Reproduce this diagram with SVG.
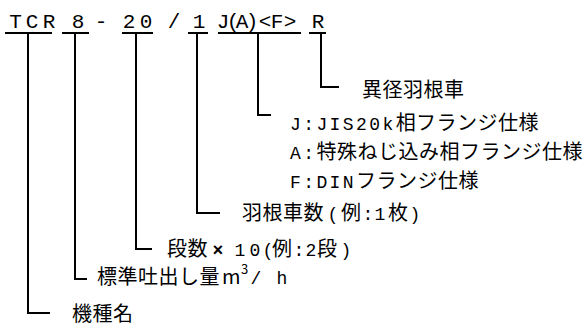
<svg xmlns="http://www.w3.org/2000/svg" width="587" height="327" viewBox="0 0 587 327">
<style>
.t{font-family:"Noto Sans CJK JP","Noto Sans",sans-serif;font-size:20px;letter-spacing:0.5px;fill:#000}
.h{font-family:"Liberation Mono","DejaVu Sans Mono",monospace;font-size:21px;fill:#000;text-anchor:middle}
.l{font-family:"Liberation Mono","DejaVu Sans Mono",monospace;font-size:18px;letter-spacing:2.4px}
.c{font-family:"Liberation Mono","DejaVu Sans Mono",monospace;font-size:18px;fill:#000;text-anchor:middle}
.ln{fill:none;stroke:#000;stroke-width:2}
</style>
<rect width="587" height="327" fill="#fff"/>
<g id="code">
<text class="h" y="28" x="15.5 32 49">TCR</text>
<text class="h" x="78" y="28">8</text>
<text class="h" x="101" y="28">-</text>
<text class="h" y="28" x="129 146">20</text>
<text class="h" x="174" y="28">/</text>
<text class="h" x="199" y="28">1</text>
<text class="h" y="28" x="223 233 242 252 265 277 290">J(A)&lt;F&gt;</text>
<text class="h" x="318" y="28">R</text>
</g>
<g id="connectors">
<path class="ln" d="M5 33H52M62 33H89M122 33H153M188 33H208M218 33H301M309 33H326"/>
<path class="ln" d="M28 33V313H50M75 33V279H87M136 33V249H152M197 33V213H220M258 33V115H271M321 33V87H339"/>
</g>
<g id="n-R"><text class="t" x="362" y="97">異径羽根車</text></g>
<g id="n-J"><text class="t" x="290" y="130"><tspan class="l">J:JIS20k</tspan>相フランジ仕様</text></g>
<g id="n-A"><text class="t" x="290" y="159"><tspan class="l">A:</tspan>特殊ねじ込み相フランジ仕様</text></g>
<g id="n-F"><text class="t" x="290" y="188"><tspan class="l">F:DIN</tspan>フランジ仕様</text></g>
<g id="n-1">
<text class="t" x="242" y="220">羽根車数</text>
<text class="c" x="333" y="220">(</text>
<text class="t" x="341" y="220">例</text>
<text class="c" x="368" y="220">:</text>
<text class="c" x="380" y="220">1</text>
<text class="t" x="388" y="220">枚</text>
<text class="c" x="415" y="220">)</text>
</g>
<g id="n-20">
<text class="t" x="167" y="256">段数</text>
<text class="c" x="218" y="256" font-weight="bold">×</text>
<text class="c" x="240" y="256">1</text>
<text class="c" x="255" y="256">0</text>
<text class="c" x="268" y="256">(</text>
<text class="t" x="272" y="256">例</text>
<text class="c" x="299" y="256">:</text>
<text class="c" x="311" y="256">2</text>
<text class="t" x="317" y="256">段</text>
<text class="c" x="346" y="256">)</text>
</g>
<g id="n-8">
<text class="t" x="97" y="284">標準吐出し量</text>
<text class="t" x="222" y="284">m<tspan font-size="13" dy="-10">3</tspan></text>
<text class="c" x="256" y="284">/</text>
<text class="c" x="282" y="284">h</text>
</g>
<g id="n-TCR"><text class="t" x="72" y="321">機種名</text></g>
</svg>
